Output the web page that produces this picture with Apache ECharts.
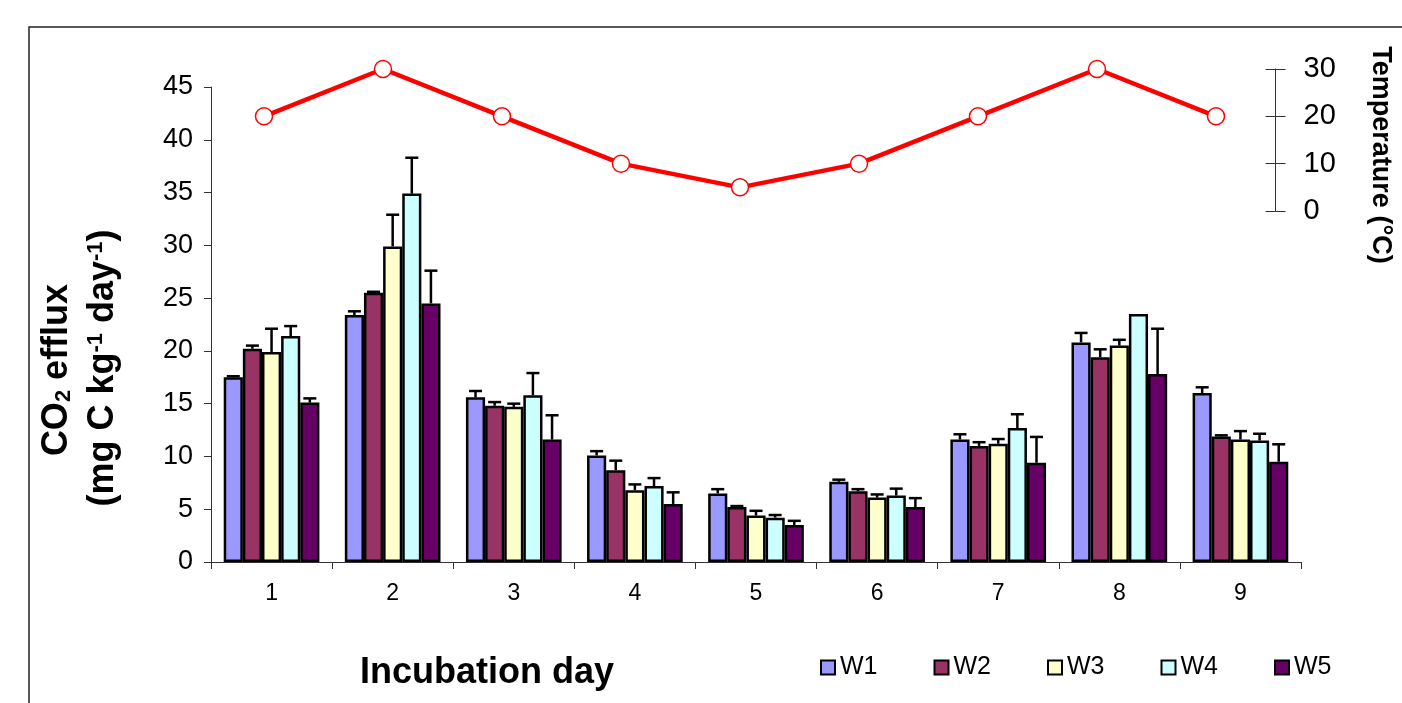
<!DOCTYPE html>
<html>
<head>
<meta charset="utf-8">
<script src="https://cdn.jsdelivr.net/npm/echarts@6/dist/echarts.min.js"></script>
<style>
html,body{margin:0;padding:0;background:#fff;}
#chart{width:1402px;height:703px;}
</style>
</head>
<body>
<div id="chart"></div>
<script>
// ---- Data ----
const days = ['1','2','3','4','5','6','7','8','9'];
const seriesNames = ['W1','W2','W3','W4','W5'];
const w1 = [17.5, 23.4, 15.6, 10.1, 6.5, 7.6, 11.6, 20.8, 16.0];
const w2 = [20.2, 25.5, 14.8, 8.7, 5.2, 6.7, 11.0, 19.4, 11.9];
const w3 = [19.9, 29.9, 14.7, 6.8, 4.4, 6.1, 11.2, 20.5, 11.6];
const w4 = [21.4, 34.9, 15.8, 7.2, 4.2, 6.3, 12.7, 23.5, 11.5];
const w5 = [15.1, 24.5, 11.6, 5.5, 3.5, 5.2, 9.4, 17.8, 9.5];
const w1Err = [0.1, 0.35, 0.6, 0.4, 0.4, 0.2, 0.5, 0.9, 0.55];
const w2Err = [0.3, 0.1, 0.35, 0.9, 0.1, 0.2, 0.35, 0.75, 0.1];
const w3Err = [2.2, 3.0, 0.3, 0.55, 0.45, 0.3, 0.45, 0.55, 0.8];
const w4Err = [0.95, 3.4, 2.1, 0.75, 0.25, 0.65, 1.3, 0, 0.65];
const w5Err = [0.4, 3.1, 2.3, 1.1, 0.4, 0.85, 2.45, 4.3, 1.65];
const temperature = [20, 30, 20, 10, 5, 10, 20, 30, 20];
const leftTicks = [0, 45, 5];   // min, max, interval
const rightTicks = [0, 30, 10]; // min, max, interval

const colors = ['#9999FF', '#993366', '#FFFFCC', '#CCFFFF', '#660066'];
const values = [w1, w2, w3, w4, w5];
const errs = [w1Err, w2Err, w3Err, w4Err, w5Err];
const FONT = 'Liberation Sans, Arial, sans-serif';
const GAP = 0.21;

const chart = echarts.init(document.getElementById('chart'), null, {renderer: 'canvas'});

const barSeries = seriesNames.map((n, i) => ({
  name: n, type: 'bar', xAxisIndex: 0, yAxisIndex: 0,
  data: values[i],
  barGap: '0%', barCategoryGap: (GAP * 100) + '%',
  itemStyle: {color: colors[i], borderColor: '#000', borderWidth: 2.5},
  emphasis: {disabled: true},
  z: 2
}));

function errSeries(idx) {
  return {
    type: 'custom', xAxisIndex: 0, yAxisIndex: 0, silent: true, z: 3,
    data: values[idx].map((v, i) => [i, v, errs[idx][i]]),
    renderItem: function (params, api) {
      const c = api.value(0), v = api.value(1), e = api.value(2);
      if (!e) return null;
      const band = api.size([1, 0])[0];
      const bw = band * (1 - GAP) / 5;
      const base = api.coord([c, v]);
      const top = api.coord([c, v + e]);
      const x = base[0] + (idx - 2) * bw;
      const st = {stroke: '#000', lineWidth: 2.5};
      return {type: 'group', children: [
        {type: 'line', shape: {x1: x, y1: base[1], x2: x, y2: top[1]}, style: st},
        {type: 'line', shape: {x1: x - 6.5, y1: top[1], x2: x + 6.5, y2: top[1]}, style: st}
      ]};
    }
  };
}

const option = {
  animation: false,
  backgroundColor: '#fff',
  textStyle: {fontFamily: FONT, color: '#000'},
  grid: [
    {left: 211, right: 101, top: 87, bottom: 141},
    {left: 204.5, right: 126.5, top: 69, bottom: 492}
  ],
  legend: {
    data: seriesNames, left: 815, top: 650,
    itemWidth: 14, itemHeight: 14, itemGap: 56, icon: 'rect',
    textStyle: {fontSize: 25, color: '#000', fontFamily: FONT},
    selectedMode: false
  },
  xAxis: [
    {type: 'category', gridIndex: 0, data: days, boundaryGap: true,
     axisLine: {lineStyle: {color: '#333', width: 1}},
     axisTick: {show: true, length: 7, lineStyle: {color: '#333'}},
     axisLabel: {fontSize: 23, color: '#000', margin: 20, fontFamily: FONT}},
    {type: 'category', gridIndex: 1, data: days, boundaryGap: true, show: false}
  ],
  yAxis: [
    {type: 'value', gridIndex: 0, min: leftTicks[0], max: leftTicks[1], interval: leftTicks[2],
     axisLine: {show: true, lineStyle: {color: '#333', width: 1}},
     axisTick: {show: true, length: 7, lineStyle: {color: '#333'}},
     splitLine: {show: false},
     axisLabel: {fontSize: 27, color: '#000', margin: 18, fontFamily: FONT}},
    {type: 'value', gridIndex: 1, position: 'right', min: rightTicks[0], max: rightTicks[1], interval: rightTicks[2],
     axisLine: {show: true, lineStyle: {color: '#333', width: 1}},
     axisTick: {show: true, length: 10, lineStyle: {color: '#333'}},
     splitLine: {show: false},
     axisLabel: {fontSize: 29, color: '#000', margin: 28, fontFamily: FONT}},
    {type: 'value', gridIndex: 1, position: 'right', min: rightTicks[0], max: rightTicks[1], interval: rightTicks[2],
     axisLine: {show: false},
     axisTick: {show: true, inside: true, length: 10, lineStyle: {color: '#333'}},
     splitLine: {show: false},
     axisLabel: {show: false}}
  ],
  series: [
    ...barSeries,
    ...[0, 1, 2, 3, 4].map(errSeries),
    {
      name: 'Temperature', type: 'line', xAxisIndex: 1, yAxisIndex: 1,
      data: temperature,
      lineStyle: {color: '#FF0000', width: 4.5},
      symbol: 'circle', symbolSize: 17,
      itemStyle: {color: '#fff', borderColor: '#FF0000', borderWidth: 1.5},
      emphasis: {disabled: true}, z: 5
    }
  ],
  graphic: [
    {type: 'rect', silent: true, shape: {x: 29, y: 27, width: 1400, height: 700},
     style: {fill: 'none', stroke: '#222', lineWidth: 1.5}},
    {type: 'text', silent: true, x: 487, y: 673,
     style: {text: 'Incubation day', font: 'bold 36px ' + FONT, fill: '#000', align: 'center', verticalAlign: 'middle'}},
    {type: 'text', silent: true, x: 57, y: 370, rotation: Math.PI / 2,
     style: {text: 'CO{sub|2} efflux', font: 'bold 36px ' + FONT, fill: '#000', align: 'center', verticalAlign: 'middle',
       rich: {sub: {font: 'bold 22px ' + FONT, verticalAlign: 'bottom', padding: [14, 0, 0, 0]}}}},
    {type: 'text', silent: true, x: 103, y: 368, rotation: Math.PI / 2,
     style: {text: '(mg C kg{sup|-1} day{sup|-1})', font: 'bold 36px ' + FONT, fill: '#000', align: 'center', verticalAlign: 'middle',
       rich: {sup: {font: 'bold 22px ' + FONT, verticalAlign: 'top', padding: [0, 0, 14, 0]}}}},
    {type: 'text', silent: true, x: 1380, y: 155, rotation: -Math.PI / 2,
     style: {text: 'Temperature (°C)', font: 'bold 27px ' + FONT, fill: '#000', align: 'center', verticalAlign: 'middle'}}
  ]
};
chart.setOption(option);
</script>
</body>
</html>
